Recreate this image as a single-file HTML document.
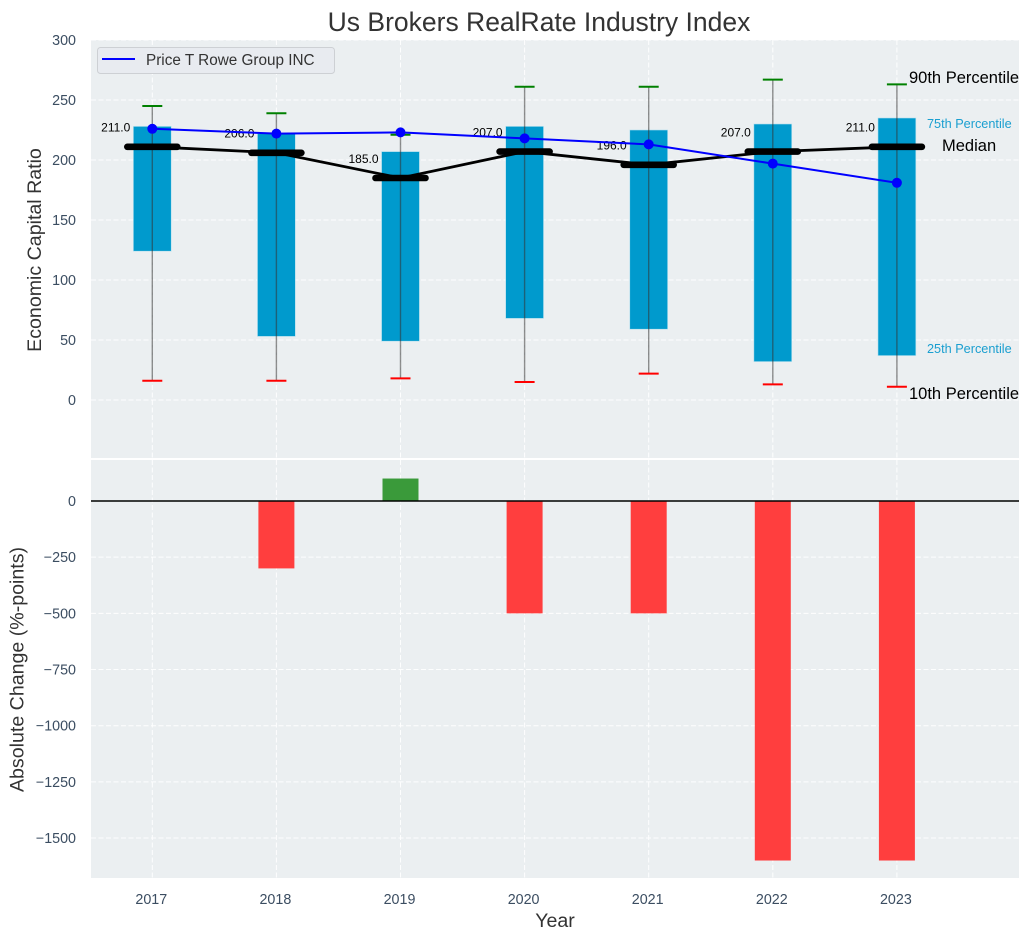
<!DOCTYPE html>
<html>
<head>
<meta charset="utf-8">
<title>Us Brokers RealRate Industry Index</title>
<style>
html,body{margin:0;padding:0;background:#fff;}
svg{display:block;font-family:"Liberation Sans",Arial,sans-serif;}
</style>
</head>
<body>
<svg id="chart" width="1030" height="940" viewBox="0 0 1030 940" xmlns="http://www.w3.org/2000/svg">
  <rect x="91" y="40" width="928" height="418" fill="#ebeff1"/>
  <rect x="91" y="460" width="928" height="418" fill="#ebeff1"/>
  <g id="grid"></g>
  <g id="bars"></g>
  <g id="marks"></g>
  <g id="ticks"></g>
  <text x="539" y="31" text-anchor="middle" font-size="26.5" fill="#333">Us Brokers RealRate Industry Index</text>
  <text transform="translate(41,250) rotate(-90)" text-anchor="middle" font-size="19.6" fill="#333">Economic Capital Ratio</text>
  <text transform="translate(23.5,669.5) rotate(-90)" text-anchor="middle" font-size="19.6" fill="#333">Absolute Change (%-points)</text>
  <text x="555" y="927" text-anchor="middle" font-size="19.6" fill="#333">Year</text>
  <g>
    <rect x="97.5" y="47.5" width="237" height="26" rx="3" fill="#e8ebf0" stroke="#cdd0d4"/>
    <line x1="102" x2="135" y1="59" y2="59" stroke="#0000ff" stroke-width="2"/>
    <text x="146" y="65" font-size="15.3" fill="#333">Price T Rowe Group INC</text>
  </g>
  <g>
    <text x="909" y="83" font-size="16.5" fill="#000">90th Percentile</text>
    <text x="927" y="128" font-size="12.7" fill="#1a9fd0">75th Percentile</text>
    <text x="942" y="151" font-size="16.5" fill="#000">Median</text>
    <text x="927" y="353" font-size="12.7" fill="#1a9fd0">25th Percentile</text>
    <text x="909" y="399" font-size="16.5" fill="#000">10th Percentile</text>
  </g>
</svg>
<script>
const years = [2017, 2018, 2019, 2020, 2021, 2022, 2023];
const p90 = [245, 239, 221, 261, 261, 267, 263];
const p75 = [228, 222, 207, 228, 225, 230, 235];
const median = [211, 206, 185, 207, 196, 207, 211];
const p25 = [124, 53, 49, 68, 59, 32, 37];
const p10 = [16, 16, 18, 15, 22, 13, 11];
const company = [226, 222, 223, 218, 213, 197, 181];
const change = [0, -300, 100, -500, -500, -1600, -1600];
const topTicks = [0, 50, 100, 150, 200, 250, 300];
const bottomTicks = [0, -250, -500, -750, -1000, -1250, -1500];

const NS = 'http://www.w3.org/2000/svg';
const xS = v => 152.3 + (v - 2017) * 124.1;
const yTop = v => 400 - v * 1.2;
const yBot = v => 501 - v * 0.2247;

function make(parent, tag, attrs, text) {
  const el = document.createElementNS(NS, tag);
  for (const k in attrs) el.setAttribute(k, attrs[k]);
  if (text !== undefined) el.textContent = text;
  document.getElementById(parent).appendChild(el);
  return el;
}

const gridStyle = {stroke: '#ffffff', 'stroke-width': 1, 'stroke-dasharray': '5 2.5', opacity: 0.95};
years.forEach(y => {
  const a = make('grid', 'line', {x1: xS(y), x2: xS(y), y1: 40, y2: 458, ...gridStyle});
  
  
  const b = make('grid', 'line', {x1: xS(y), x2: xS(y), y1: 460, y2: 878, ...gridStyle});
  
  
  const t = make('ticks', 'text', {x: xS(y) - 1, y: 904, 'text-anchor': 'middle', 'font-size': 14.3, fill: '#3b4d61'}, String(y));
  
  
});
topTicks.forEach(v => {
  const a = make('grid', 'line', {x1: 91, x2: 1019, y1: yTop(v), y2: yTop(v), ...gridStyle});
  
  
  const t = make('ticks', 'text', {x: 76, y: yTop(v) + 5, 'text-anchor': 'end', 'font-size': 14.3, fill: '#3b4d61'}, String(v));
  
  
});
bottomTicks.forEach(v => {
  const a = make('grid', 'line', {x1: 91, x2: 1019, y1: yBot(v), y2: yBot(v), ...gridStyle});
  
  
  const t = make('ticks', 'text', {x: 76, y: yBot(v) + 5, 'text-anchor': 'end', 'font-size': 14.3, fill: '#3b4d61'}, String(v).replace('-', '\u2212'));
  
  
});

const boxW = 0.305 * 124.1;
const chgW = 0.29 * 124.1;
years.forEach((y, i) => {
  const box = make('bars', 'rect', {x: xS(y) - boxW / 2, y: yTop(p75[i]), width: boxW, height: yTop(p25[i]) - yTop(p75[i]), fill: '#009acd', stroke: '#b5e0ee', 'stroke-width': 0.6});
  
  
  if (change[i] !== 0) {
    const top = Math.min(yBot(change[i]), yBot(0));
    const bar = make('bars', 'rect', {x: xS(y) - chgW / 2, y: top, width: chgW, height: Math.abs(yBot(change[i]) - yBot(0)), fill: change[i] < 0 ? '#ff3e3e' : '#3a9a3a'});
    
    
  }
});

const zero = make('marks', 'line', {x1: 91, x2: 1019, y1: yBot(0), y2: yBot(0), stroke: '#000', 'stroke-width': 1.6});



years.forEach((y, i) => {
  const w = make('marks', 'line', {x1: xS(y), x2: xS(y), y1: yTop(p90[i]), y2: yTop(p10[i]), stroke: '#333', 'stroke-opacity': 0.55, 'stroke-width': 1.4});
  
  
  const hi = make('marks', 'line', {x1: xS(y) - 10, x2: xS(y) + 10, y1: yTop(p90[i]), y2: yTop(p90[i]), stroke: '#008000', 'stroke-width': 2});
  
  
  const lo = make('marks', 'line', {x1: xS(y) - 10, x2: xS(y) + 10, y1: yTop(p10[i]), y2: yTop(p10[i]), stroke: '#ff0000', 'stroke-width': 2});
  
  
});

const medLine = make('marks', 'polyline', {points: years.map((y, i) => xS(y) + ',' + yTop(median[i])).join(' '), fill: 'none', stroke: '#000', 'stroke-width': 2.8});


years.forEach((y, i) => {
  const m = make('marks', 'line', {x1: xS(y) - 25, x2: xS(y) + 25, y1: yTop(median[i]), y2: yTop(median[i]), stroke: '#000', 'stroke-width': 6.6, 'stroke-linecap': 'round'});
  
  
  const t = make('marks', 'text', {x: xS(y) - 22, y: yTop(median[i] + 16) + 4, 'text-anchor': 'end', 'font-size': 12, fill: '#000'}, median[i].toFixed(1));
  
  
});

const coLine = make('marks', 'polyline', {points: years.map((y, i) => xS(y) + ',' + yTop(company[i])).join(' '), fill: 'none', stroke: '#0000ff', 'stroke-width': 2});


years.forEach((y, i) => {
  const c = make('marks', 'circle', {cx: xS(y), cy: yTop(company[i]), r: 5, fill: '#0000ff'});
  
  
});
</script>
</body>
</html>
